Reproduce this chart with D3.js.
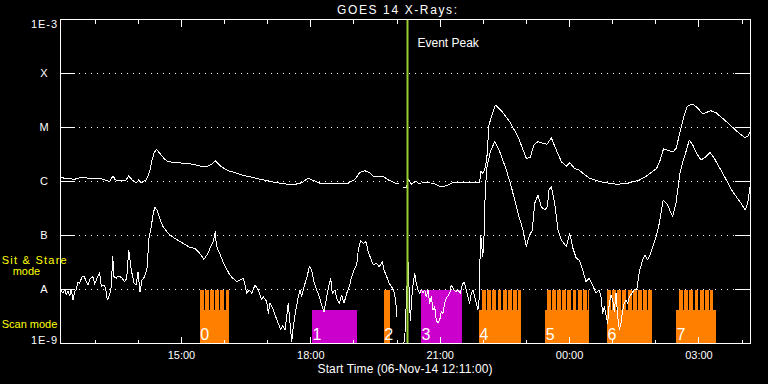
<!DOCTYPE html>
<html><head><meta charset="utf-8">
<script src="https://cdn.jsdelivr.net/npm/d3@7"></script>
<style>html,body{margin:0;padding:0;background:#000;}svg{display:block;}</style>
</head><body><svg id="c" width="768" height="384"></svg>
<script>
// ---------------- DATA ----------------
const startTime = new Date(2014, 10, 6, 12, 11, 0);
const endTime = new Date(2014, 10, 7, 4, 11, 0);
const chartTitle = "GOES 14 X-Rays:";
const xAxisTitle = "Start Time (06-Nov-14 12:11:00)";
const yTickValues = [1e-9, 1e-8, 1e-7, 1e-6, 1e-5, 1e-4, 1e-3];
const yTickLabels = ["1E-9", "A", "B", "C", "M", "X", "1E-3"];
const gridValues = [1e-8, 1e-7, 1e-6, 1e-5, 1e-4];
const modeLabels = ["Sit & Stare", "mode", "Scan mode"];
const eventPeakLabel = "Event Peak";
const eventPeakMinute = 482.4;   // minutes after start time

// [minutes after start, flux W/m^2]; null = data gap
const longFlux = [[0,1.18e-6],[20.5,1.10e-6],[29.6,1.20e-6],[43.5,1.13e-6],[55.2,1.15e-6],[62.2,1.07e-6],[69.1,9.9e-7],[73.7,1.28e-6],[76.9,1.07e-6],[85.3,1.02e-6],[92.2,1.07e-6],[95.6,1.28e-6],[100.2,1.07e-6],[106.2,9.5e-7],[109.5,1.07e-6],[113.1,9.5e-7],[120.1,1.07e-6],[124.8,1.52e-6],[128,2.50e-6],[130.8,3.33e-6],[134,3.95e-6],[138.7,3.33e-6],[145.7,2.58e-6],[150.3,2.33e-6],[164.2,2.23e-6],[182.7,2.11e-6],[187.4,2.05e-6],[199,1.86e-6],[205.9,1.94e-6],[210.5,2.08e-6],[216.6,2.40e-6],[224.4,1.88e-6],[233.7,1.58e-6],[243.5,1.46e-6],[252.8,1.32e-6],[268.9,1.18e-6],[278.3,1.10e-6],[301.5,9.5e-7],[324.6,8.6e-7],[329.3,9.0e-7],[336.3,9.5e-7],[345,1.15e-6],[352.4,1.05e-6],[361.7,9.3e-7],[401.1,9.3e-7],[410.4,1.10e-6],[417.4,1.48e-6],[424.3,1.58e-6],[430.3,1.46e-6],[436.9,1.23e-6],[442.8,1.26e-6],[449.8,1.23e-6],[456.8,1.07e-6],[467.1,9.3e-7],[471.2,9.2e-7],null,[477.6,7.8e-7],[482.1,7.8e-7],[484.6,1.10e-6],[488.8,8.9e-7],[494.9,1.02e-6],[498.5,9.3e-7],[510.2,9.5e-7],[519,9.3e-7],[528.7,8.1e-7],[538,8.3e-7],[547.2,9.6e-7],[583.9,9.6e-7],[585.3,1.56e-6],[588.5,1.42e-6],[590.9,1.68e-6],[593.7,2.50e-6],[596.9,1.11e-5],[600.1,1.58e-5],[605.6,2.61e-5],[614,2.05e-5],[625.7,1.28e-5],[637.2,6.76e-6],[648.8,2.69e-6],[654.3,2.76e-6],[659.1,4.74e-6],[665,5.46e-6],[672,5.10e-6],[677.6,4.89e-6],[683.5,6.47e-6],[690.5,3.83e-6],[697.5,2.33e-6],[704.4,1.91e-6],[709.1,2.23e-6],[716.1,1.73e-6],[720.7,1.68e-6],[736.4,1.15e-6],[751.3,9.9e-7],[764.2,9.3e-7],[774.5,8.9e-7],[788.4,9.2e-7],[805.5,1.05e-6],[816,1.26e-6],[829.9,1.73e-6],[834.3,2.33e-6],[839.6,4.00e-6],[845.9,3.78e-6],[852.9,3.52e-6],[857.4,4.17e-6],[863.3,8.99e-6],[867.5,1.50e-5],[872.3,2.40e-5],[877.6,2.69e-5],[882.1,2.61e-5],[886.3,2.35e-5],[894.6,1.78e-5],[905.1,2.05e-5],[912.7,1.88e-5],[927.3,1.28e-5],[941.2,8.61e-6],[952.4,6.53e-6],[957.3,6.96e-6],[960,8.26e-6]];

const shortFlux = [[0,1.01e-8],[4.2,8.51e-9],[6.5,1.01e-8],[8.8,7.91e-9],[11.1,9.38e-9],[13.5,7.68e-9],[15.7,1.01e-8],[18.1,6.39e-9],[20.5,9.10e-9],[22.7,1.01e-8],[25,1.39e-8],[27.4,1.30e-8],[30.6,1.73e-8],[33.4,1.78e-8],[36.6,1.39e-8],[39,1.21e-8],[42.2,1.61e-8],[45.9,1.73e-8],[48.3,1.26e-8],[51.5,1.61e-8],[55.2,2.05e-8],[57.5,1.13e-8],[60.8,1.21e-8],[63.6,1.05e-8],[65.8,6.39e-9],[69.1,7.91e-9],[71.4,1.13e-8],[73.3,4.17e-8],[75.1,1.73e-8],[78.3,1.61e-8],[80.7,1.78e-8],[85.3,1.68e-8],[90,1.39e-8],[92.8,1.61e-8],[95.6,5.39e-8],[99.2,2.30e-8],[103,1.30e-8],[106.2,1.21e-8],[108.5,2.14e-8],[111.3,9.10e-9],[114.1,1.50e-8],[117.8,1.73e-8],[121.5,2.64e-8],[123.4,8.26e-8],[126.2,1.26e-7],[129.4,2.40e-7],[131.8,3.33e-7],[135,2.97e-7],[138.7,2.08e-7],[143.3,1.46e-7],[150.3,1.10e-7],[159.6,8.87e-8],[171.1,7.17e-8],[180.5,6.04e-8],[187.4,5.79e-8],[194.4,4.68e-8],[200.3,3.62e-8],[205.9,4.68e-8],[210.5,6.67e-8],[213.3,7.68e-8],[216.1,1.18e-7],[217.5,6.67e-8],[219.8,5.39e-8],[222.2,4.68e-8],[226.8,3.27e-8],[231.4,2.47e-8],[236.1,1.86e-8],[240.7,1.61e-8],[246,1.39e-8],[250.4,1.50e-8],[255,1.61e-8],[257.4,1.21e-8],[259.7,8.51e-9],[263.4,9.79e-9],[266.7,8.51e-9],[271.3,1.21e-8],[275.9,9.79e-9],[280.6,6.39e-9],[282.9,7.36e-9],[287.6,5.94e-9],[289.8,3.62e-9],[292.2,5.55e-9],[295.9,4.48e-9],[299.1,3.37e-9],[303.7,2.37e-9],[307.1,1.78e-9],[309.8,2.20e-9],[313,1.78e-9],[315.4,3.13e-9],[317.6,5.55e-9],[320,2.37e-9],[322.4,1.08e-9],[324.6,2.05e-9],[327,3.37e-9],[331.5,7.36e-9],[333.9,9.79e-9],[336.3,7.36e-9],[339.5,1.13e-8],[343.2,1.61e-8],[346.9,2.64e-8],[350.2,2.30e-8],[353.4,1.39e-8],[357.1,9.79e-9],[360.8,7.36e-9],[364.1,5.16e-9],[367.3,3.88e-9],[371.1,7.36e-9],[374.2,1.21e-8],[376.6,1.61e-8],[378.8,8.51e-9],[382.6,9.79e-9],[385,6.87e-9],[388.6,5.55e-9],[391.9,7.91e-9],[395.1,5.55e-9],[398.9,8.51e-9],[402.5,1.13e-8],[405.8,1.73e-8],[409,2.30e-8],[412.8,2.84e-8],[415,5.39e-8],[418.4,8.01e-8],[422,7.17e-8],[425.7,7.68e-8],[428.9,5.01e-8],[432.3,3.78e-8],[435.9,2.84e-8],[440.6,3.06e-8],[444.2,2.64e-8],[448.4,3.27e-8],[450.7,2.30e-8],[454.5,1.73e-8],[458.1,1.30e-8],[461.4,1.13e-8],[464.7,9.10e-9],[467.1,6.39e-9],[468.4,3.13e-9],null,[478.3,1.0e-9],[480,1.56e-9],[484.2,3.23e-8],[487.4,2.61e-9],[490.2,9.79e-9],[493.5,2.0e-8],[495.7,1.30e-8],[498.1,9.79e-9],[500.4,8.51e-9],[502.7,9.79e-9],[505,8.51e-9],[507.4,9.79e-9],[509.6,7.36e-9],[512,9.79e-9],[514.4,5.55e-9],[516.6,7.36e-9],[519,4.17e-9],[521.3,4.80e-9],[523.5,2.72e-9],[525.9,2.37e-9],[528.3,2.72e-9],[530.5,3.88e-9],[532.9,3.62e-9],[535.2,5.55e-9],[537.5,6.87e-9],[542.2,8.51e-9],[544.4,1.21e-8],[546.8,1.05e-8],[550,9.10e-9],[553.7,9.79e-9],[556.9,8.51e-9],[559.7,1.21e-8],[562.1,1.39e-8],[565.3,9.79e-9],[567.6,7.36e-9],[570,5.55e-9],[572.2,8.51e-9],[574.6,9.79e-9],[576.9,7.36e-9],[579.2,5.55e-9],[581.5,4.17e-9],[583.9,8.51e-9],[584.7,1.02e-7],[586.7,8.26e-8],[587.5,4.05e-8],[589.4,5.39e-8],[591.7,6.96e-7],[594.1,1.88e-6],[598.7,3.56e-6],[604.8,5.46e-6],[611.8,3.56e-6],[621,1.63e-6],[627.9,8.01e-7],[637.2,2.58e-7],[644.2,1.26e-7],[648.8,6.21e-8],[652.5,9.51e-8],[657.1,1.26e-7],[660.5,3.95e-7],[665,5.62e-7],[669.7,3.41e-7],[674.4,2.97e-7],[678,3.41e-7],[680.4,6.96e-7],[683.6,8.01e-7],[688.3,3.95e-7],[692.9,1.26e-7],[697.5,8.26e-8],[704.4,6.21e-8],[709.2,1.10e-7],[713.7,5.79e-8],[718.3,3.78e-8],[722.5,3.52e-8],[727.2,2.30e-8],[731.8,1.39e-8],[736.4,1.61e-8],[741.1,1.21e-8],[745.7,8.51e-9],[750.3,9.79e-9],[752.7,7.36e-9],[755,3.62e-9],[757.3,4.80e-9],[762,2.37e-9],[764.2,5.55e-9],[766.6,7.91e-9],[769,6.39e-9],[771.2,3.88e-9],[773.6,8.51e-9],[775.9,3.13e-9],[778.2,1.78e-9],[780.5,2.37e-9],[782.9,4.17e-9],[785.1,5.55e-9],[787.5,6.39e-9],[789.8,5.55e-9],[792.1,7.36e-9],[795.8,8.51e-9],[799,1.01e-8],[802.4,9.79e-9],[806,2.14e-8],[810.7,3.52e-8],[813.9,4.35e-8],[817.7,3.52e-8],[820.9,4.35e-8],[825.4,6.67e-8],[829.2,9.51e-8],[832.9,1.46e-7],[836.1,2.58e-7],[839.3,4.54e-7],[845.4,3.67e-7],[852.3,2.23e-7],[857,3.95e-7],[862.5,1.42e-6],[867.2,2.50e-6],[870.9,3.56e-6],[875.6,5.87e-6],[880.3,4.74e-6],[887.2,3.10e-6],[891.8,2.50e-6],[898.8,2.88e-6],[904.3,3.47e-6],[910.3,2.69e-6],[922,1.42e-6],[935.9,6.47e-7],[947.5,3.95e-7],[953.4,2.97e-7],[956.8,3.95e-7],[960,8.01e-7]];

// Observation blocks (minutes after start time)
const scanLabels = ["0", "1", "2", "3", "4", "5", "6", "7"];
const scanKind   = ["scan", "stare", "scan", "stare", "scan", "scan", "scan", "scan"];
const scanStart  = [194.4, 350.6, 450.4, 502.3, 582.9, 675.2, 761.0, 857.0];
const scanEnd    = [234.7, 412.8, 458.7, 558.9, 641.4, 735.6, 823.7, 912.7];
const combStart  = [194.4, 350.6, 450.4, 502.3, 587.1, 677.1, 761.0, 861.2];
const combEnd    = [234.7, 412.8, 458.7, 558.9, 641.4, 735.6, 823.7, 908.9];
const combTeeth  = [6, 0, 1, 1, 8, 9, 9, 7];
const toothPeriodMin = 7.2;

// ---------------- STYLE / LAYOUT ----------------
const W = 768, H = 384;
const L = 60, R = 750, T = 19.5, B = 343.5;
const splitY = 310;
const slitPx = 1.3;
const colors = { scan: "#ff8000", stare: "#cc00cc", peak: "#9acd32", mode: "#ffff00" };
const font = "'Liberation Sans', Arial, Helvetica, sans-serif";

const toDate = m => new Date(startTime.getTime() + m * 60000);

const svg = d3.select("#c");
svg.append("rect").attr("width", W).attr("height", H).attr("fill", "#000");

const x = d3.scaleTime().domain([startTime, endTime]).range([L, R]);
const y = d3.scaleLog().domain([1e-9, 1e-3]).range([B, T]);

// grid (dotted)
svg.append("g").selectAll("line").data(gridValues).join("line")
  .attr("x1", L + 15).attr("x2", R - 15)
  .attr("y1", d => y(d)).attr("y2", d => y(d))
  .attr("stroke", "#fff").attr("stroke-width", 1)
  .attr("stroke-dasharray", "1 5").attr("stroke-dashoffset", 2)
  .attr("shape-rendering", "crispEdges");

// observation blocks
const blocks = svg.append("g").attr("shape-rendering", "crispEdges");
scanStart.forEach((s, i) => {
  const col = colors[scanKind[i]];
  const x0 = x(toDate(s)), x1 = x(toDate(scanEnd[i]));
  blocks.append("rect").attr("x", x0).attr("y", splitY)
    .attr("width", x1 - x0).attr("height", B - splitY).attr("fill", col);
  const n = combTeeth[i];
  if (n > 0) {
    const c0 = x(toDate(combStart[i])), c1 = x(toDate(combEnd[i]));
    const p = x(toDate(toothPeriodMin)) - x(toDate(0));
    const teeth = d3.range(n).map(k => {
      const a = c0 + k * p;
      const b = k === n - 1 ? c1 : Math.min(c1, c0 + (k + 1) * p - slitPx);
      return [a, b];
    });
    blocks.selectAll(null).data(teeth).join("rect")
      .attr("x", d => d[0]).attr("y", y(1e-8))
      .attr("width", d => Math.max(0, d[1] - d[0]))
      .attr("height", splitY - y(1e-8) + 0.5).attr("fill", col);
  }
});

// curves
svg.append("clipPath").attr("id", "clip").append("rect")
  .attr("x", L).attr("y", T).attr("width", R - L + 1).attr("height", B - T + 1);
const line = d3.line().defined(d => d !== null)
  .x(d => x(toDate(d[0]))).y(d => y(d[1]));
[longFlux, shortFlux].forEach(series => {
  svg.append("path").datum(series).attr("d", line)
    .attr("clip-path", "url(#clip)")
    .attr("fill", "none").attr("stroke", "#fff").attr("stroke-width", 1)
    .attr("stroke-linejoin", "round")
    .attr("shape-rendering", "crispEdges");
});

// block labels
svg.append("g").selectAll("text").data(scanLabels).join("text")
  .attr("x", (d, i) => x(toDate(scanStart[i])) + 0.5).attr("y", 339.5)
  .attr("font-family", font).attr("font-size", 16).attr("fill", "#fff")
  .text(d => d);

// event peak
const px = Math.round(x(toDate(eventPeakMinute))) + 0.5;
svg.append("line").attr("x1", px).attr("x2", px).attr("y1", T).attr("y2", B)
  .attr("stroke", colors.peak).attr("stroke-width", 2);
svg.append("text").attr("x", 417.5).attr("y", 46.5)
  .attr("font-family", font).attr("font-size", 12).attr("fill", "#fff")
  .text(eventPeakLabel);

// axes
const axisStyle = g => {
  g.select(".domain").remove();
  g.selectAll("line").attr("stroke", "#fff").attr("shape-rendering", "crispEdges");
};
svg.append("g").attr("transform", `translate(0,${B})`)
  .call(d3.axisBottom(x).ticks(d3.timeHour.every(1)).tickSize(-4).tickFormat("").offset(0))
  .call(axisStyle);
const xb = svg.append("g").attr("transform", `translate(0,${B})`)
  .call(d3.axisBottom(x).ticks(d3.timeHour.every(3)).tickSize(-7)
    .tickFormat(d3.timeFormat("%H:%M")).offset(0))
  .call(axisStyle);
xb.selectAll("text").attr("y", 15.5).attr("dy", null)
  .attr("font-family", font).attr("font-size", 11).attr("fill", "#fff");
svg.append("g").attr("transform", `translate(0,${T})`)
  .call(d3.axisTop(x).ticks(d3.timeHour.every(1)).tickSize(-4).tickFormat("").offset(0))
  .call(axisStyle);
svg.append("g").attr("transform", `translate(0,${T})`)
  .call(d3.axisTop(x).ticks(d3.timeHour.every(3)).tickSize(-7).tickFormat("").offset(0))
  .call(axisStyle);

const yl = svg.append("g").attr("transform", `translate(${L},0)`)
  .call(d3.axisLeft(y).tickValues(yTickValues).tickSize(-15)
    .tickFormat((d, i) => yTickLabels[i]).offset(0))
  .call(axisStyle);
yl.selectAll("text").attr("x", -16).attr("text-anchor", "middle")
  .attr("font-family", font).attr("font-size", 11).attr("fill", "#fff")
  .attr("dy", (d, i) => i === 0 ? "0.05em" : (i === yTickValues.length - 1 ? "0.73em" : "0.34em"));
yl.selectAll("text").filter((d, i) => i === 0 || i === yTickValues.length - 1)
  .attr("textLength", 26).attr("lengthAdjust", "spacing");
svg.append("g").attr("transform", `translate(${R},0)`)
  .call(d3.axisRight(y).tickValues(yTickValues).tickSize(-15).tickFormat("").offset(0))
  .call(axisStyle);

// frame
svg.append("rect").attr("x", L + 0.5).attr("y", T).attr("width", R - L).attr("height", B - T)
  .attr("fill", "none").attr("stroke", "#fff").attr("stroke-width", 1)
  .attr("shape-rendering", "crispEdges");

// titles
svg.append("text").attr("x", 397).attr("y", 13.5).attr("text-anchor", "middle")
  .attr("font-family", font).attr("font-size", 12).attr("fill", "#fff")
  .attr("textLength", 120).attr("lengthAdjust", "spacing").text(chartTitle);
svg.append("text").attr("x", 405).attr("y", 372.5).attr("text-anchor", "middle")
  .attr("font-family", font).attr("font-size", 12).attr("fill", "#fff")
  .attr("textLength", 175).attr("lengthAdjust", "spacing").text(xAxisTitle);

// mode labels
const modePos = [[1.7, 263.5, 65], [12.7, 275, null], [1.7, 327.5, null]];
svg.append("g").selectAll("text").data(modeLabels).join("text")
  .attr("x", (d, i) => modePos[i][0]).attr("y", (d, i) => modePos[i][1])
  .attr("textLength", (d, i) => modePos[i][2]).attr("lengthAdjust", "spacing")
  .attr("font-family", font).attr("font-size", 11).attr("fill", colors.mode)
  .text(d => d);
</script>
</body></html>
